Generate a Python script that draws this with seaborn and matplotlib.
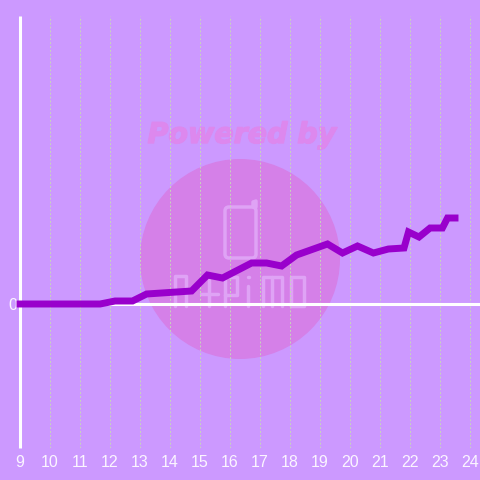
import matplotlib
matplotlib.use('Agg')
import matplotlib.pyplot as plt
from matplotlib.patches import Circle, FancyBboxPatch
import matplotlib.patheffects as pe
import seaborn as sns
import pandas as pd

hours = [9, 11.67, 12.17, 12.75, 13.22, 14.72, 15.25, 15.75, 16.72, 17.22, 17.72, 18.22, 19.25, 19.75,
         20.25, 20.78, 21.28, 21.8, 21.95, 22.3, 22.67, 23.08, 23.25, 23.5]
values = [0, 0, 3, 3, 10, 13, 29, 26, 41, 41, 38, 49, 60, 51, 58, 51, 55, 56, 72, 67, 76, 76, 86, 86]
hour_ticks = list(range(9, 25))

BG = '#cc99ff'

sns.set_theme(style='white', rc={'axes.facecolor': BG, 'figure.facecolor': BG})
plt.rcParams['font.family'] = ['Liberation Sans', 'DejaVu Sans']

fig = plt.figure(figsize=(4.8, 4.8), dpi=100)

# watermark sits under the chart, in pixel coordinates
bg = fig.add_axes([0, 0, 1, 1], zorder=0)
bg.set_xlim(0, 480)
bg.set_ylim(480, 0)
bg.axis('off')
bg.add_patch(Circle((240, 259), 100, color='#d580e8', lw=0))
bg.text(242, 135, 'Powered by', color='#dd88ee', fontsize=20.5, fontweight='bold', fontstyle='italic',
        family='DejaVu Sans', ha='center', va='center',
        path_effects=[pe.withStroke(linewidth=1, foreground='#dd88ee')])

logo = '#dfa3f5'
bg.add_patch(FancyBboxPatch((225, 207), 31, 51, boxstyle='round,pad=0,rounding_size=4', fc='none', ec=logo, lw=2.5))
bg.plot([253, 253, 256, 256], [207, 202, 201, 207], color=logo, lw=2.5, solid_capstyle='round')
logo_strokes = [
    ([175, 175, 186, 186], [306, 276, 276, 306]),
    ([209, 209], [280, 306]),
    ([201, 218], [294, 294]),
    ([225, 225, 237, 237, 225], [306, 277, 277, 295, 295]),
    ([248, 248], [286, 306]),
    ([248, 248.5], [277, 277]),
    ([263, 263, 282, 282], [306, 277, 277, 306]),
    ([272, 272], [277, 306]),
    ([291, 291, 304, 304, 291], [306, 277, 277, 306, 306]),
]
for sx, sy in logo_strokes:
    bg.plot(sx, sy, color=logo, lw=2.5, solid_capstyle='round', solid_joinstyle='round')

ax = fig.add_axes([20 / 480, 32 / 480, 460 / 480, 432 / 480], zorder=1)
ax.patch.set_alpha(0)

df = pd.DataFrame({'hour': hours, 'value': values})
sns.lineplot(data=df, x='hour', y='value', color='#9900cc', linewidth=5, ax=ax, zorder=5,
             solid_capstyle='projecting', solid_joinstyle='miter', clip_on=False)

ax.set_xlim(9, 9 + 460 / 30)
ax.set_ylim(-144, 288)
ax.set_xticks(hour_ticks)
ax.set_yticks([0])
ax.set_xlabel('')
ax.set_ylabel('')
ax.grid(axis='x', color='#c8d4bc', linestyle=(0, (2, 2)), linewidth=0.7)
ax.tick_params(axis='x', length=0, colors='#fbf5ff', labelsize=11.5, pad=5)
ax.tick_params(axis='y', length=0, colors='#fbf5ff', labelsize=11.5, pad=2)

sns.despine(ax=ax, top=True, right=True, bottom=True)
ax.spines['left'].set_color('white')
ax.spines['left'].set_linewidth(2.2)
ax.spines['left'].set_capstyle('butt')
ax.axhline(0, color='white', linewidth=2.2, zorder=4)

fig.savefig('out.png', dpi=100)
